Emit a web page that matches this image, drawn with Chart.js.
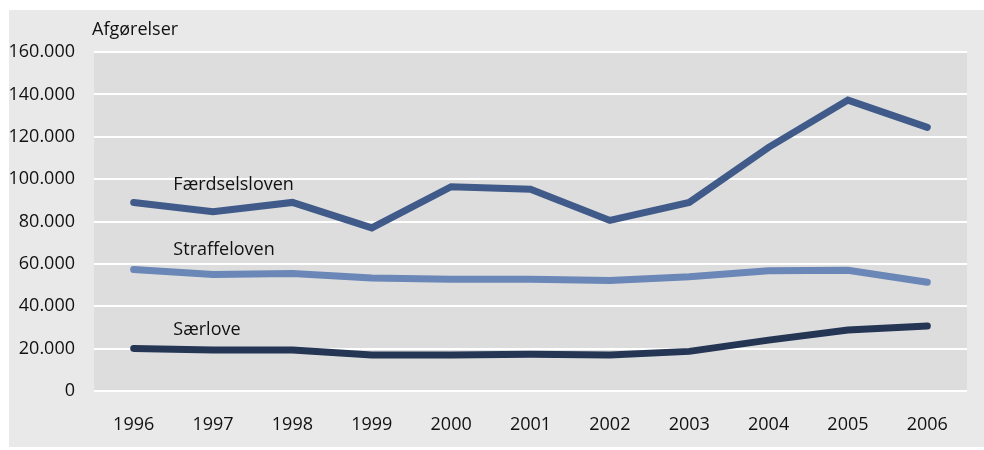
<!DOCTYPE html>
<html>
<head>
<meta charset="utf-8">
<script src="https://cdn.jsdelivr.net/npm/chart.js@4/dist/chart.umd.min.js"></script>
<style>
  html, body { margin: 0; padding: 0; background: #ffffff; }
  #wrap { position: absolute; left: 9px; top: 10px; width: 975px; height: 437px; background: #e9e9e9; }
  canvas { display: block; }
</style>
</head>
<body>
<div id="wrap"><canvas id="c" width="975" height="437"></canvas></div>
<script>
const years = ['1996','1997','1998','1999','2000','2001','2002','2003','2004','2005','2006'];
const faerdselsloven = [89000, 84600, 89000, 77000, 96400, 95200, 80500, 89000, 115000, 137300, 124400];
const straffeloven   = [57400, 55000, 55500, 53300, 52700, 52700, 52100, 53900, 56700, 57000, 51300];
const saerlove       = [20100, 19300, 19300, 17000, 17000, 17300, 17000, 18700, 24000, 28800, 30700];
const seriesNames = ['Færdselsloven', 'Straffeloven', 'Særlove'];
const labelValues = [97200, 66500, 28800];
const yAxisTitle = 'Afgørelser';

const FONT = '"Open Sans", "Noto Sans", sans-serif';
const TEXT = '#111111';

const bgPlugin = {
  id: 'plotBg',
  beforeDraw(chart) {
    const {ctx, chartArea: a} = chart;
    ctx.save();
    ctx.fillStyle = '#dddddd';
    ctx.fillRect(a.left, a.top, a.right - a.left, a.bottom - a.top);
    ctx.restore();
  }
};

const textPlugin = {
  id: 'texts',
  afterDatasetsDraw(chart) {
    const {ctx} = chart;
    const x = chart.scales.x, y = chart.scales.y;
    ctx.save();
    ctx.fillStyle = TEXT;
    ctx.font = '18px ' + FONT;
    ctx.textBaseline = 'middle';
    ctx.textAlign = 'left';
    ctx.fillText(yAxisTitle, x.left - 2, chart.chartArea.top - 22);
    const lx = (x.getPixelForValue(0) + x.getPixelForValue(1)) / 2;
    seriesNames.forEach((n, i) => {
      ctx.fillText(n, lx, y.getPixelForValue(labelValues[i]));
    });
    ctx.restore();
  }
};

function fmt(v) {
  return String(v).replace(/\B(?=(\d{3})+(?!\d))/g, '.');
}

const common = { fill: false, tension: 0, pointRadius: 0, pointHoverRadius: 0, borderWidth: 7, borderCapStyle: 'round', borderJoinStyle: 'miter' };

new Chart(document.getElementById('c'), {
  type: 'line',
  data: {
    labels: years,
    datasets: [
      Object.assign({ label: seriesNames[0], data: faerdselsloven, borderColor: '#405b89' }, common),
      Object.assign({ label: seriesNames[1], data: straffeloven, borderColor: '#6a87b7' }, common),
      Object.assign({ label: seriesNames[2], data: saerlove, borderColor: '#253654' }, common)
    ]
  },
  options: {
    responsive: false,
    animation: false,
    devicePixelRatio: 1,
    layout: { padding: { top: 42, right: 17, left: 0, bottom: 0 } },
    plugins: { legend: { display: false }, tooltip: { enabled: false } },
    scales: {
      x: {
        offset: true,
        grid: { display: false, drawTicks: false },
        border: { display: false },
        ticks: { color: TEXT, font: { family: FONT, size: 18 }, padding: 23, maxRotation: 0 },
        afterFit(s) { s.height = 56; }
      },
      y: {
        min: 0, max: 160000,
        grid: { color: '#ffffff', lineWidth: 2, drawTicks: false },
        border: { display: false },
        ticks: { stepSize: 20000, color: TEXT, font: { family: FONT, size: 18 }, padding: 19, callback: v => fmt(v) },
        afterFit(s) { s.width = 85; }
      }
    }
  },
  plugins: [bgPlugin, textPlugin]
});
</script>
</body>
</html>
